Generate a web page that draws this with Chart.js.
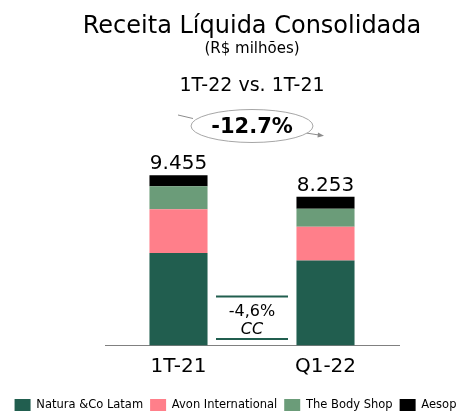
<!DOCTYPE html>
<html>
<head>
<meta charset="utf-8">
<script src="https://cdn.jsdelivr.net/npm/chart.js@4.4.0/dist/chart.umd.min.js"></script>
<style>
    html, body { margin: 0; padding: 0; background: #fff; }
</style>
</head>
<body>
<canvas id="myChart" width="471" height="412"></canvas>
<script>
// Données (R$ milhões)
const periods = ['1T-21', 'Q1-22'];
const natura = [5142, 4725];
const avon = [2416, 1865];
const bodyShop = [1290, 1000];
const aesop = [607, 663];
const totalLabels = ['9.455', '8.253'];
const variation = '-12.7%';
const ccVariation = '-4,6%';

const FONT = '"DejaVu Sans", Verdana, sans-serif';
const darkGreen = '#215e4f';

// Textes, ellipse et encadré dessinés par-dessus le graphique
const annotations = {
    id: 'annotations',
    afterDraw(chart) {
        const ctx = chart.ctx;
        const area = chart.chartArea;
        const cx = (area.left + area.right) / 2;

        ctx.save();
        ctx.fillStyle = '#000';
        ctx.textAlign = 'center';
        ctx.textBaseline = 'alphabetic';

        ctx.font = '24px ' + FONT;
        ctx.fillText('Receita Líquida Consolidada', cx, 32.5);
        ctx.font = '15px ' + FONT;
        ctx.fillText('(R$ milhões)', cx, 53);
        ctx.font = '19px ' + FONT;
        ctx.fillText('1T-22 vs. 1T-21', cx, 91);

        // flèches
        ctx.strokeStyle = '#8c8c8c';
        ctx.lineWidth = 1;
        ctx.beginPath();
        ctx.moveTo(178, 115);
        ctx.lineTo(193, 118.5);
        ctx.moveTo(306, 133);
        ctx.lineTo(319, 135);
        ctx.stroke();
        ctx.fillStyle = '#8c8c8c';
        ctx.beginPath();
        ctx.moveTo(324, 135.8);
        ctx.lineTo(318, 132.6);
        ctx.lineTo(317.5, 137.6);
        ctx.closePath();
        ctx.fill();

        // ellipse
        ctx.fillStyle = '#fff';
        ctx.strokeStyle = '#a6a6a6';
        ctx.beginPath();
        ctx.ellipse(cx, 126, 61, 16.5, 0, 0, Math.PI * 2);
        ctx.fill();
        ctx.stroke();

        ctx.fillStyle = '#000';
        ctx.font = 'bold 21px ' + FONT;
        ctx.fillText(variation, cx, 133);

        // totaux au-dessus des barres
        const lastMeta = chart.getDatasetMeta(chart.data.datasets.length - 1);
        ctx.font = '20px ' + FONT;
        lastMeta.data.forEach((bar, i) => {
            ctx.fillText(totalLabels[i], bar.x, bar.y - 6);
        });

        // encadré croissance à câmbio constante
        const base = area.bottom;
        ctx.strokeStyle = darkGreen;
        ctx.lineWidth = 2;
        ctx.beginPath();
        ctx.moveTo(cx - 36, base - 49);
        ctx.lineTo(cx + 36, base - 49);
        ctx.moveTo(cx - 36, base - 6.5);
        ctx.lineTo(cx + 36, base - 6.5);
        ctx.stroke();
        ctx.font = '16px ' + FONT;
        ctx.fillText(ccVariation, cx, base - 30);
        ctx.font = 'italic 16px ' + FONT;
        ctx.fillText('CC', cx, base - 11.5);

        ctx.restore();
    }
};

const ctx = document.getElementById('myChart').getContext('2d');

new Chart(ctx, {
    type: 'bar',
    data: {
        labels: periods,
        datasets: [
            { label: 'Natura &Co Latam', data: natura, backgroundColor: '#215e4f' },
            { label: 'Avon International', data: avon, backgroundColor: '#ff7f8a' },
            { label: 'The Body Shop', data: bodyShop, backgroundColor: '#6b9c79' },
            { label: 'Aesop', data: aesop, backgroundColor: '#000000' }
        ]
    },
    options: {
        responsive: false,
        animation: false,
        borderWidth: 0,
        barPercentage: 0.395,
        categoryPercentage: 1,
        layout: {
            padding: { top: 100, left: 0, right: 0, bottom: -9 }
        },
        scales: {
            x: {
                stacked: true,
                grid: { display: false, drawTicks: false },
                border: { display: true, color: '#808080', width: 1 },
                ticks: {
                    color: '#000',
                    padding: 9,
                    font: { family: FONT, size: 20 }
                },
                afterFit: (scale) => { scale.height += 4.5; }
            },
            y: {
                stacked: true,
                min: 0,
                max: 13630,
                grid: { display: false, drawTicks: false },
                border: { display: false },
                ticks: { display: false },
                afterFit: (scale) => { scale.width = 105; }
            },
            yRight: {
                position: 'right',
                grid: { display: false, drawTicks: false },
                border: { display: false },
                ticks: { display: false },
                afterFit: (scale) => { scale.width = 72; }
            }
        },
        plugins: {
            legend: {
                position: 'bottom',
                labels: {
                    boxWidth: 16,
                    boxHeight: 12,
                    padding: 7,
                    color: '#000',
                    font: { family: FONT, size: 11.5 }
                }
            },
            tooltip: { enabled: false }
        }
    },
    plugins: [annotations]
});
</script>
</body>
</html>
